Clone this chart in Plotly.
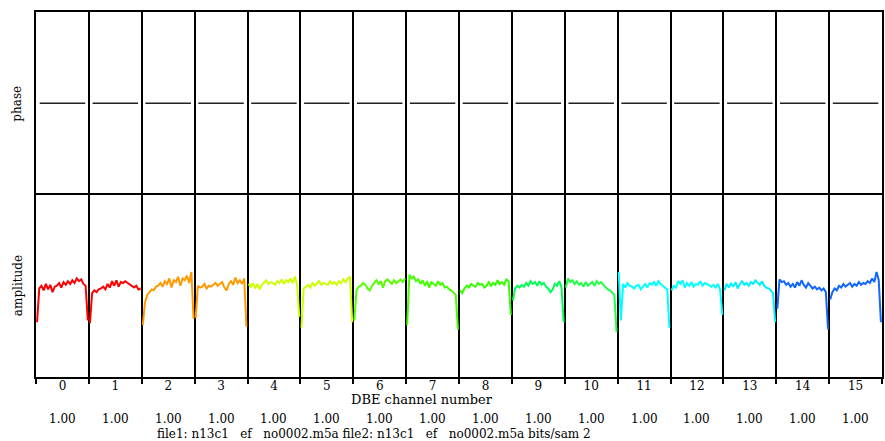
import plotly.graph_objects as go
from plotly.subplots import make_subplots

channels = [str(i) for i in range(16)]
gains = ["1.00"] * 16
colors = ["#ff0000", "#ff0000", "#ff9900", "#ff9900", "#ccff00", "#ccff00",
          "#55ff00", "#44ff00", "#33ff00", "#00ff55", "#22ff44", "#00ffff",
          "#00ffff", "#00f0ff", "#1166ff", "#1166ff"]

phase = [0.0] * 16

amp = [
    [0.60, 0.97, 1.00, 0.95, 1.02, 0.96, 1.01, 0.93, 0.99, 1.00, 1.03, 0.98, 1.04, 1.01, 1.05, 1.02, 1.06, 1.03, 1.08, 1.05, 1.07, 1.02, 1.00, 0.62],
    [0.59, 0.92, 0.95, 0.93, 0.96, 0.97, 0.99, 0.96, 1.02, 0.98, 1.05, 1.00, 1.06, 0.99, 1.04, 1.03, 1.05, 1.03, 1.02, 1.00, 0.98, 1.00, 0.96, 0.97],
    [0.57, 0.82, 0.90, 0.93, 0.96, 0.95, 0.99, 1.00, 1.03, 0.99, 1.05, 1.02, 1.08, 0.98, 1.06, 1.04, 1.10, 1.00, 1.08, 1.06, 1.11, 1.03, 1.15, 0.64],
    [0.65, 1.00, 0.98, 0.99, 1.02, 0.97, 1.00, 0.99, 1.01, 1.03, 1.00, 1.02, 1.04, 0.98, 0.95, 1.02, 1.05, 1.01, 1.09, 1.03, 1.06, 1.02, 1.08, 0.55],
    [1.02, 0.99, 1.03, 0.97, 1.02, 0.96, 1.01, 1.03, 1.06, 1.02, 1.04, 1.03, 1.01, 1.05, 1.03, 1.07, 1.02, 1.06, 1.04, 1.08, 1.03, 1.10, 1.01, 0.66],
    [0.54, 0.97, 0.99, 1.01, 0.98, 1.03, 1.00, 1.02, 1.05, 1.01, 1.03, 1.02, 1.01, 1.05, 1.02, 1.04, 1.01, 1.05, 1.03, 1.07, 1.04, 1.08, 1.10, 0.60],
    [0.62, 0.95, 0.99, 1.00, 1.03, 1.01, 0.97, 0.95, 1.00, 1.03, 1.06, 1.02, 1.05, 0.98, 1.05, 1.07, 1.04, 1.02, 1.06, 1.03, 1.05, 1.07, 1.04, 1.08],
    [0.57, 1.12, 1.08, 1.10, 1.05, 1.07, 1.02, 1.06, 1.00, 1.05, 0.98, 1.04, 1.02, 1.00, 1.05, 1.01, 1.03, 0.98, 0.99, 0.96, 0.95, 0.93, 0.90, 0.52],
    [0.95, 0.92, 0.97, 1.00, 0.98, 1.02, 1.00, 0.99, 1.03, 1.01, 1.02, 0.98, 1.00, 1.04, 1.00, 1.03, 1.01, 1.06, 1.02, 1.04, 1.01, 1.07, 1.05, 0.68],
    [0.84, 0.97, 1.00, 0.98, 1.01, 0.99, 1.03, 1.00, 1.05, 1.02, 1.04, 1.00, 1.05, 1.01, 1.03, 0.99, 0.97, 0.93, 0.96, 1.02, 1.00, 1.05, 0.98, 0.60],
    [0.98, 1.08, 1.04, 1.06, 1.02, 1.05, 1.01, 1.03, 0.99, 1.04, 1.00, 1.02, 1.04, 1.00, 1.05, 1.02, 1.04, 1.01, 0.98, 0.96, 0.95, 0.92, 0.90, 0.49],
    [1.15, 0.62, 1.02, 0.98, 1.03, 1.00, 0.99, 0.97, 1.00, 1.01, 0.96, 0.99, 1.02, 0.98, 1.03, 1.01, 1.04, 1.00, 1.05, 1.02, 1.00, 0.98, 0.96, 0.54],
    [0.95, 1.00, 0.98, 1.05, 1.02, 1.06, 0.98, 1.03, 1.00, 1.04, 0.99, 1.02, 1.01, 1.05, 1.00, 1.03, 1.02, 1.00, 0.99, 1.01, 0.98, 1.02, 0.96, 0.68],
    [0.95, 1.02, 0.98, 1.03, 0.99, 1.04, 0.97, 1.02, 1.05, 1.01, 1.03, 1.00, 1.04, 1.02, 1.06, 1.03, 1.01, 1.05, 1.00, 0.98, 0.97, 0.95, 0.92, 0.60],
    [0.75, 1.07, 1.04, 1.05, 1.01, 1.03, 0.99, 1.02, 0.98, 1.04, 1.00, 1.06, 1.01, 0.98, 1.03, 1.00, 0.97, 0.99, 0.96, 0.98, 0.95, 0.97, 0.93, 0.52],
    [0.85, 0.93, 0.97, 0.95, 1.00, 0.98, 1.02, 0.99, 1.01, 1.03, 0.99, 1.02, 1.00, 1.04, 1.01, 1.03, 1.02, 1.05, 1.03, 1.08, 1.04, 1.15, 1.06, 0.60],
]

footer = "file1: n13c1   ef   no0002.m5a file2: n13c1   ef   no0002.m5a bits/sam 2"
FONT = "DejaVu Serif"

fig = make_subplots(rows=2, cols=1, shared_xaxes=True, vertical_spacing=0)

for c in range(16):
    vals = amp[c]
    n = len(vals)
    xs = [c + 0.02 + 0.96 * i / (n - 1) for i in range(n)]
    fig.add_trace(go.Scatter(x=xs, y=vals, mode="lines",
                             line=dict(color=colors[c], width=2),
                             showlegend=False, hoverinfo="skip"), row=2, col=1)
    fig.add_trace(go.Scatter(x=[c + 0.07, c + 0.93], y=[phase[c], phase[c]], mode="lines",
                             line=dict(color="#222222", width=1.5),
                             showlegend=False, hoverinfo="skip"), row=1, col=1)

minor_common = dict(tickvals=list(range(17)), showgrid=True, gridcolor="black", gridwidth=2)

fig.update_xaxes(range=[0, 16], showline=True, linecolor="black", linewidth=2, mirror=True,
                 showgrid=False, zeroline=False,
                 tickvals=[c + 0.5 for c in range(16)], ticktext=channels, ticks="",
                 showticklabels=True, tickfont=dict(family=FONT, size=12, color="black"),
                 ticklabelstandoff=-3,
                 minor=dict(**minor_common, ticks="outside", ticklen=5, tickwidth=2, tickcolor="black"),
                 row=2, col=1)
fig.update_xaxes(range=[0, 16], showline=True, linecolor="black", linewidth=2, mirror=False,
                 side="top", showgrid=False, zeroline=False,
                 showticklabels=False, ticks="", minor=dict(**minor_common), row=1, col=1)

fig.update_yaxes(range=[-180, 180], showticklabels=False, ticks="", showgrid=False, zeroline=False,
                 showline=True, linecolor="black", linewidth=2, mirror=True, row=1, col=1)
fig.update_yaxes(range=[0, 2], showticklabels=False, ticks="", showgrid=False, zeroline=False,
                 showline=True, linecolor="black", linewidth=2, mirror=True, row=2, col=1)

ann = []
ann.append(dict(text="phase", xref="paper", yref="paper", x=-0.022, y=0.75, textangle=-90,
                showarrow=False, font=dict(family=FONT, size=12, color="black"),
                xanchor="center", yanchor="middle"))
ann.append(dict(text="amplitude", xref="paper", yref="paper", x=-0.022, y=0.25, textangle=-90,
                showarrow=False, font=dict(family=FONT, size=12, color="black"),
                xanchor="center", yanchor="middle"))
ann.append(dict(text="DBE channel number", xref="x2", yref="paper", x=7.3, y=-0.035,
                showarrow=False, font=dict(family=FONT, size=13, color="black"),
                xanchor="center", yanchor="top"))
for c in range(16):
    ann.append(dict(text=gains[c], xref="x2", yref="paper", x=c + 0.5, y=-0.09,
                    showarrow=False, font=dict(family=FONT, size=12, color="black"),
                    xanchor="center", yanchor="top"))
ann.append(dict(text=footer, xref="x2", yref="paper", x=6.4, y=-0.132,
                showarrow=False, font=dict(family=FONT, size=12, color="black"),
                xanchor="center", yanchor="top"))

fig.update_layout(width=885, height=441, margin=dict(l=36, r=1, t=12, b=64),
                  plot_bgcolor="white", paper_bgcolor="white", annotations=ann)

fig.write_html("out.html", config={"displayModeBar": False},
               post_script="document.body.style.margin='0';")
